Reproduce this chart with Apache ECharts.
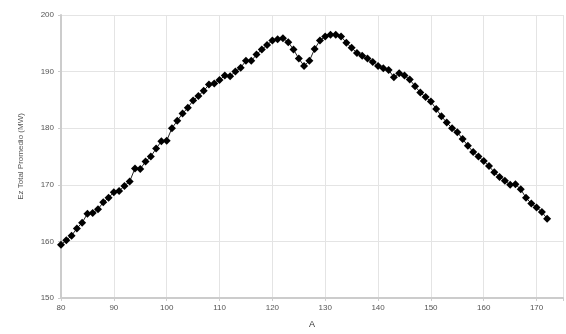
<!DOCTYPE html>
<html>
<head>
<meta charset="utf-8">
<script src="https://cdn.jsdelivr.net/npm/echarts@6/dist/echarts.min.js"></script>
<style>html,body{margin:0;padding:0;background:#fff;overflow:hidden}#c{width:566px;height:334px}</style>
</head>
<body>
<div id="c"></div>
<script>
const xValues = [80,81,82,83,84,85,86,87,88,89,90,91,92,93,94,95,96,97,98,99,100,101,102,103,104,105,106,107,108,109,110,111,112,113,114,115,116,117,118,119,120,121,122,123,124,125,126,127,128,129,130,131,132,133,134,135,136,137,138,139,140,141,142,143,144,145,146,147,148,149,150,151,152,153,154,155,156,157,158,159,160,161,162,163,164,165,166,167,168,169,170,171,172];
const ezValues = [159.4,160.2,161.0,162.3,163.3,164.9,165.0,165.7,166.9,167.7,168.7,168.9,169.8,170.6,172.9,172.8,174.1,175.0,176.4,177.7,177.8,180.0,181.3,182.6,183.6,184.9,185.7,186.6,187.7,187.9,188.5,189.3,189.2,190.0,190.7,191.9,191.9,193.0,193.9,194.7,195.5,195.7,195.9,195.2,193.9,192.3,191.0,191.9,194.0,195.5,196.2,196.5,196.5,196.2,195.1,194.2,193.3,192.8,192.3,191.7,191.0,190.6,190.3,189.0,189.7,189.3,188.6,187.4,186.3,185.5,184.7,183.4,182.1,181.0,180.0,179.3,178.1,176.9,175.8,175.0,174.2,173.3,172.2,171.4,170.7,170.0,170.1,169.2,167.7,166.7,166.0,165.2,164.0];
const xTicks = [80,90,100,110,120,130,140,150,160,170];
const yTicks = [150,160,170,180,190,200];
const xName = 'A';
const yName = 'Ez Total Promedio (MW)';

const chart = echarts.init(document.getElementById('c'), null, {renderer: 'canvas'});
const labelStyle = {color: '#555', fontFamily: 'Liberation Sans, Arial, sans-serif', fontSize: 8};
chart.setOption({
  animation: false,
  backgroundColor: '#fff',
  grid: {left: 61, right: -2, top: 15, bottom: 27, containLabel: false},
  xAxis: {
    type: 'value', min: 80, max: 175, interval: 10,
    name: xName, nameLocation: 'middle', nameGap: 22,
    nameTextStyle: {color: '#333', fontFamily: 'Liberation Sans, Arial, sans-serif', fontSize: 9},
    axisLine: {show: true, lineStyle: {color: '#ccc', width: 2}},
    axisTick: {show: true, length: 3, lineStyle: {color: '#ccc'}},
    axisLabel: Object.assign({margin: 6, formatter: v => xTicks.includes(v) ? String(v) : ''}, labelStyle),
    splitLine: {show: true, lineStyle: {color: '#e4e4e4', width: 1}}
  },
  yAxis: {
    type: 'value', min: 150, max: 200, interval: 10,
    name: yName, nameLocation: 'middle', nameGap: 36, nameRotate: 90,
    nameTextStyle: {color: '#555', fontFamily: 'Liberation Sans, Arial, sans-serif', fontSize: 8},
    axisLine: {show: true, lineStyle: {color: '#ccc', width: 2}},
    axisTick: {show: true, length: 3, lineStyle: {color: '#ccc'}},
    axisLabel: Object.assign({margin: 7, formatter: v => yTicks.includes(v) ? String(v) : ''}, labelStyle),
    splitLine: {show: true, lineStyle: {color: '#e4e4e4', width: 1}}
  },
  series: [{
    type: 'line',
    data: xValues.map((x, i) => [x, ezValues[i]]),
    symbol: 'diamond', symbolSize: 8,
    itemStyle: {color: '#000'},
    lineStyle: {color: '#222', width: 1}
  }]
});
</script>
</body>
</html>
